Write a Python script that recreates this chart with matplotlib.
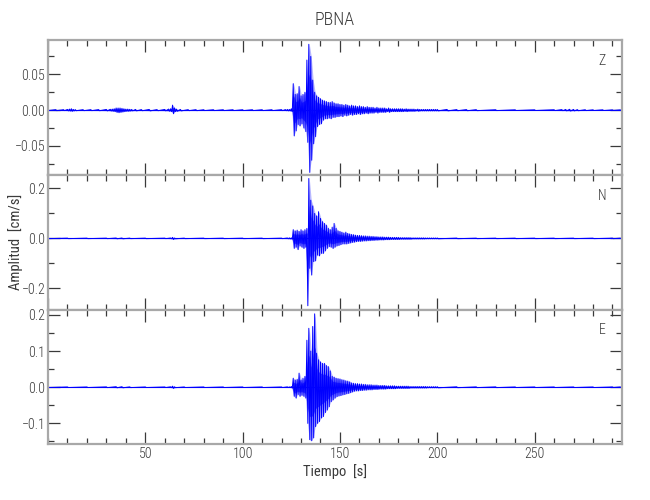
import numpy as np
import matplotlib
matplotlib.use("Agg")
import matplotlib.pyplot as plt
from matplotlib import font_manager
from matplotlib.ticker import MultipleLocator, FuncFormatter

# ---------------- data (cm/s) ----------------
title = "PBNA"
components = ["Z", "N", "E"]

# event window: one positive/negative peak per second, t = 124 ... 199 s
ev_start = 124
z_ev_hi = [0.001, 0.002, 0.037, 0.022, 0.023, 0.033, 0.020, 0.022, 0.025, 0.070,
           0.092, 0.075, 0.042, 0.025, 0.020, 0.018, 0.016, 0.014, 0.013, 0.012,
           0.011, 0.011, 0.012, 0.010, 0.009, 0.009, 0.008, 0.008, 0.007, 0.008,
           0.007, 0.006, 0.007, 0.006, 0.006, 0.005, 0.006, 0.005, 0.005, 0.004,
           0.005, 0.004, 0.004, 0.004, 0.003, 0.004, 0.003, 0.003, 0.003, 0.003,
           0.002, 0.003, 0.002, 0.002, 0.002, 0.002, 0.002, 0.002, 0.002, 0.0015,
           0.002, 0.0015, 0.0015, 0.0015, 0.0015, 0.001, 0.0015, 0.001, 0.001, 0.001,
           0.001, 0.001, 0.001, 0.001, 0.001, 0.001]
z_ev_lo = [-0.001, -0.002, -0.036, -0.029, -0.020, -0.022, -0.019, -0.025, -0.030, -0.045,
           -0.087, -0.070, -0.047, -0.037, -0.023, -0.020, -0.019, -0.014, -0.012, -0.012,
           -0.011, -0.012, -0.010, -0.010, -0.009, -0.009, -0.008, -0.009, -0.007, -0.008,
           -0.007, -0.006, -0.007, -0.006, -0.006, -0.005, -0.006, -0.005, -0.005, -0.004,
           -0.005, -0.004, -0.004, -0.004, -0.003, -0.004, -0.003, -0.003, -0.003, -0.003,
           -0.002, -0.003, -0.002, -0.002, -0.002, -0.002, -0.002, -0.002, -0.002, -0.0015,
           -0.002, -0.0015, -0.0015, -0.0015, -0.0015, -0.001, -0.0015, -0.001, -0.001, -0.001,
           -0.001, -0.001, -0.001, -0.001, -0.001, -0.001]

n_ev_hi = [0.002, 0.002, 0.035, 0.030, 0.033, 0.028, 0.035, 0.030, 0.035, 0.040,
           0.240, 0.153, 0.130, 0.100, 0.090, 0.107, 0.080, 0.067, 0.060, 0.053,
           0.040, 0.035, 0.045, 0.060, 0.040, 0.030, 0.028, 0.025, 0.022, 0.025,
           0.020, 0.018, 0.016, 0.015, 0.013, 0.012, 0.012, 0.011, 0.010, 0.010,
           0.009, 0.009, 0.008, 0.008, 0.007, 0.007, 0.006, 0.006, 0.006, 0.005,
           0.005, 0.005, 0.004, 0.004, 0.004, 0.004, 0.004, 0.003, 0.003, 0.003,
           0.003, 0.003, 0.003, 0.002, 0.002, 0.002, 0.002, 0.002, 0.002, 0.002,
           0.0015, 0.0015, 0.0015, 0.0015, 0.0015, 0.0015]
n_ev_lo = [-0.002, -0.003, -0.040, -0.035, -0.045, -0.030, -0.035, -0.040, -0.035, -0.270,
           -0.120, -0.147, -0.093, -0.090, -0.067, -0.070, -0.060, -0.060, -0.050, -0.040,
           -0.033, -0.035, -0.040, -0.035, -0.030, -0.028, -0.025, -0.022, -0.022, -0.022,
           -0.020, -0.018, -0.016, -0.015, -0.013, -0.012, -0.012, -0.011, -0.010, -0.010,
           -0.009, -0.009, -0.008, -0.008, -0.007, -0.007, -0.006, -0.006, -0.006, -0.005,
           -0.005, -0.005, -0.004, -0.004, -0.004, -0.004, -0.004, -0.003, -0.003, -0.003,
           -0.003, -0.003, -0.003, -0.002, -0.002, -0.002, -0.002, -0.002, -0.002, -0.002,
           -0.0015, -0.0015, -0.0015, -0.0015, -0.0015, -0.0015]

e_ev_hi = [0.001, 0.002, 0.025, 0.020, 0.022, 0.039, 0.020, 0.025, 0.030, 0.130,
           0.163, 0.100, 0.168, 0.203, 0.094, 0.076, 0.070, 0.066, 0.066, 0.060,
           0.057, 0.045, 0.030, 0.028, 0.025, 0.024, 0.023, 0.021, 0.020, 0.018,
           0.017, 0.015, 0.012, 0.011, 0.010, 0.010, 0.009, 0.009, 0.008, 0.008,
           0.007, 0.007, 0.007, 0.006, 0.006, 0.006, 0.005, 0.005, 0.005, 0.005,
           0.004, 0.004, 0.004, 0.004, 0.004, 0.003, 0.003, 0.003, 0.003, 0.003,
           0.003, 0.003, 0.002, 0.002, 0.002, 0.002, 0.002, 0.002, 0.002, 0.002,
           0.002, 0.0015, 0.0015, 0.0015, 0.0015, 0.0015]
e_ev_lo = [-0.001, -0.002, -0.025, -0.030, -0.020, -0.025, -0.022, -0.025, -0.030, -0.100,
           -0.145, -0.148, -0.140, -0.109, -0.100, -0.095, -0.085, -0.081, -0.070, -0.063,
           -0.054, -0.040, -0.035, -0.030, -0.026, -0.024, -0.023, -0.021, -0.020, -0.018,
           -0.017, -0.015, -0.013, -0.011, -0.010, -0.010, -0.009, -0.009, -0.008, -0.008,
           -0.007, -0.007, -0.007, -0.006, -0.006, -0.006, -0.005, -0.005, -0.005, -0.005,
           -0.004, -0.004, -0.004, -0.004, -0.004, -0.003, -0.003, -0.003, -0.003, -0.003,
           -0.003, -0.003, -0.002, -0.002, -0.002, -0.002, -0.002, -0.002, -0.002, -0.002,
           -0.002, -0.0015, -0.0015, -0.0015, -0.0015, -0.0015]

# quiet parts (before and after the event), sparse samples
z_quiet_t = [0, 4, 8, 10, 11, 12, 13, 14, 18, 22, 26, 30, 32, 33, 34, 35, 36, 37, 38,
             39, 40, 41, 42, 43, 45, 48, 52, 56, 60, 62, 63, 64, 65, 66, 68, 72, 76,
             80, 85, 90, 95, 100, 105, 110, 115, 120, 122, 123,
             200, 205, 210, 215, 220, 230, 240, 250, 260, 264, 266, 268, 270, 272,
             276, 280, 285, 290, 294]
z_quiet_hi = [0.0005, 0.0007, 0.0007, 0.001, 0.0015, 0.002, 0.001, 0.0008, 0.0007, 0.0007,
              0.0008, 0.001, 0.0012, 0.0015, 0.002, 0.003, 0.003, 0.003, 0.0025, 0.002,
              0.0015, 0.0015, 0.0012, 0.001, 0.001, 0.0008, 0.001, 0.0008, 0.001, 0.0015,
              0.002, 0.007, 0.003, 0.0015, 0.001, 0.0007, 0.0007, 0.0006, 0.0006, 0.0006,
              0.0006, 0.0006, 0.0006, 0.0006, 0.0006, 0.0007, 0.0008, 0.001,
              0.001, 0.001, 0.0008, 0.0008, 0.0007, 0.0006, 0.0005, 0.0005, 0.0006, 0.0008,
              0.001, 0.0012, 0.001, 0.0008, 0.0006, 0.0005, 0.0005, 0.0004, 0.0004]
z_quiet_lo = [-0.0005, -0.0007, -0.0007, -0.001, -0.0012, -0.0015, -0.001, -0.0008, -0.0007, -0.0007,
              -0.0008, -0.001, -0.0012, -0.0015, -0.002, -0.003, -0.0035, -0.003, -0.0025, -0.002,
              -0.0015, -0.0015, -0.0012, -0.001, -0.001, -0.0008, -0.001, -0.0008, -0.001, -0.0015,
              -0.002, -0.005, -0.002, -0.0015, -0.001, -0.0007, -0.0007, -0.0006, -0.0006, -0.0006,
              -0.0006, -0.0006, -0.0006, -0.0006, -0.0006, -0.0007, -0.0008, -0.001,
              -0.001, -0.001, -0.0008, -0.0008, -0.0007, -0.0006, -0.0005, -0.0005, -0.0006, -0.0008,
              -0.001, -0.0012, -0.001, -0.0008, -0.0006, -0.0005, -0.0005, -0.0004, -0.0004]

n_quiet_t = [0, 10, 20, 30, 35, 38, 42, 50, 60, 63, 64, 65, 70, 80, 90, 100, 110, 120, 123,
             200, 210, 220, 230, 240, 250, 260, 270, 280, 290, 294]
n_quiet_hi = [0.001, 0.001, 0.001, 0.001, 0.0015, 0.0015, 0.001, 0.001, 0.001, 0.0015, 0.004,
              0.0015, 0.001, 0.001, 0.001, 0.001, 0.001, 0.001, 0.0015,
              0.0015, 0.0012, 0.001, 0.001, 0.001, 0.001, 0.001, 0.001, 0.001, 0.001, 0.001]
n_quiet_lo = [-0.001, -0.001, -0.001, -0.001, -0.0015, -0.0015, -0.001, -0.001, -0.001, -0.0015, -0.004,
              -0.0015, -0.001, -0.001, -0.001, -0.001, -0.001, -0.001, -0.0015,
              -0.0015, -0.0012, -0.001, -0.001, -0.001, -0.001, -0.001, -0.001, -0.001, -0.001, -0.001]

e_quiet_t = [0, 10, 20, 30, 35, 38, 42, 50, 60, 63, 64, 65, 70, 80, 90, 100, 110, 120, 123,
             200, 210, 220, 230, 240, 250, 260, 270, 280, 290, 294]
e_quiet_hi = [0.0008, 0.0008, 0.0008, 0.001, 0.0015, 0.0015, 0.001, 0.0008, 0.0008, 0.0012, 0.003,
              0.0012, 0.0008, 0.0008, 0.0008, 0.0008, 0.0008, 0.0008, 0.001,
              0.0015, 0.0012, 0.001, 0.001, 0.0008, 0.0008, 0.0008, 0.0008, 0.0008, 0.0008, 0.0008]
e_quiet_lo = [-0.0008, -0.0008, -0.0008, -0.001, -0.0015, -0.0015, -0.001, -0.0008, -0.0008, -0.0012, -0.003,
              -0.0012, -0.0008, -0.0008, -0.0008, -0.0008, -0.0008, -0.0008, -0.001,
              -0.0015, -0.0012, -0.001, -0.001, -0.0008, -0.0008, -0.0008, -0.0008, -0.0008, -0.0008, -0.0008]

x_range = (0, 294.9)
y_ranges = [(-0.0906, 0.098), (-0.285, 0.254), (-0.157, 0.215)]
y_major = [0.05, 0.2, 0.1]
y_minor = [0.025, 0.1, 0.05]
y_dec = [2, 1, 1]

# ---------------- fonts ----------------
avail = {f.name for f in font_manager.fontManager.ttflist}
prefs = ["Roboto Condensed", "Liberation Sans Narrow", "Roboto", "DejaVu Sans"]
font = next(p for p in prefs if p in avail)
plt.rcParams["font.family"] = [font, "DejaVu Sans"]
plt.rcParams["font.weight"] = "light"

TXT = "#3a3a3a"
SPINE = "#a8a8a8"
BLUE = "#0000ff"

fig = plt.figure(figsize=(6.5, 5.0), dpi=100)
left, width = 48 / 650, (622 - 48) / 650
tops = [40, 175, 309.5]
bots = [175, 309.5, 444]

traces = [
    (z_quiet_t, z_quiet_hi, z_quiet_lo, z_ev_hi, z_ev_lo),
    (n_quiet_t, n_quiet_hi, n_quiet_lo, n_ev_hi, n_ev_lo),
    (e_quiet_t, e_quiet_hi, e_quiet_lo, e_ev_hi, e_ev_lo),
]


def make_fmt(dec):
    def f(v, pos):
        s = f"{v:.{dec}f}"
        if float(s) == 0:
            s = f"{0:.{dec}f}"
        return s.replace("-", "\u2212")
    return FuncFormatter(f)


axes = []
for i, (qt, qhi, qlo, ehi, elo) in enumerate(traces):
    y0 = 1 - bots[i] / 500
    h = (bots[i] - tops[i]) / 500
    ax = fig.add_axes([left, y0, width, h])
    axes.append(ax)
    n = min(len(ehi), len(elo))
    et = list(np.arange(ev_start, ev_start + n))
    m = min(len(qt), len(qhi), len(qlo))
    t_all = np.array(list(qt[:m]) + et, dtype=float)
    hi_all = np.array(list(qhi[:m]) + list(ehi[:n]))
    lo_all = np.array(list(qlo[:m]) + list(elo[:n]))
    order = np.argsort(t_all, kind="stable")
    t_all, hi_all, lo_all = t_all[order], hi_all[order], lo_all[order]
    xs = np.column_stack([t_all, t_all + 0.5]).ravel()
    ys = np.column_stack([hi_all, lo_all]).ravel()
    # envelope band (light) + inner core, then the oscillating trace
    ax.fill_between(t_all + 0.25, lo_all, hi_all, color=BLUE, alpha=0.28, lw=0)
    ax.fill_between(t_all + 0.25, lo_all * 0.55, hi_all * 0.55, color=BLUE, alpha=0.6, lw=0)
    ax.plot(x_range, [0, 0], color=BLUE, lw=0.8)
    ax.plot(xs, ys, color=BLUE, lw=0.7)

    ax.set_xlim(*x_range)
    ax.set_ylim(*y_ranges[i])
    ax.xaxis.set_major_locator(MultipleLocator(50))
    ax.xaxis.set_minor_locator(MultipleLocator(10))
    ax.yaxis.set_major_locator(MultipleLocator(y_major[i]))
    ax.yaxis.set_minor_locator(MultipleLocator(y_minor[i]))
    ax.yaxis.set_major_formatter(make_fmt(y_dec[i]))
    ax.tick_params(which="both", direction="in", top=True, right=True,
                   color=TXT, labelcolor=TXT, labelsize=10, width=0.9)
    ax.tick_params(which="major", length=8.5, pad=2)
    ax.tick_params(which="minor", length=4.5)
    if i < 2:
        ax.tick_params(labelbottom=False)
    for s in ax.spines.values():
        s.set_color(SPINE)
        s.set_linewidth(1.6)
    ax.text(0.965, 0.845, components[i], transform=ax.transAxes, ha="center", va="center",
            color=TXT, fontsize=10)

axes[2].set_xticks([50, 100, 150, 200, 250])
axes[2].set_xlabel("Tiempo  [s]", color=TXT, fontsize=10.5, labelpad=2)
axes[1].set_ylabel("Amplitud  [cm/s]", color=TXT, fontsize=10.5)
axes[1].yaxis.set_label_coords(-0.043, 0.5)
fig.text((48 + 622) / 2 / 650, 1 - 20 / 500, title, ha="center", va="center",
         color=TXT, fontsize=13)

fig.savefig("out.png", dpi=100)
